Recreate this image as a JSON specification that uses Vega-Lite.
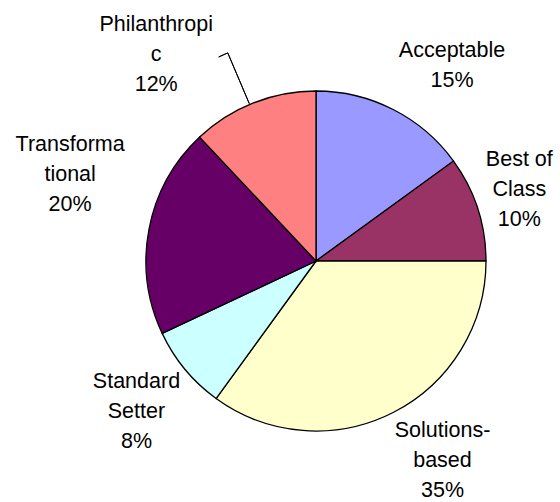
{
  "$schema": "https://vega.github.io/schema/vega-lite/v6.json",
  "autosize": "none",
  "width": 488,
  "height": 482,
  "padding": {"left": 72, "top": 20, "right": 0, "bottom": 0},
  "background": "white",
  "config": {"view": {"stroke": null}},
  "data": {
    "values": [
      {"cat": "Acceptable", "value": 15, "order": 1, "label": "Acceptable\n15%"},
      {"cat": "Best of Class", "value": 10, "order": 2, "label": "Best of\nClass\n10%"},
      {"cat": "Solutions-based", "value": 35, "order": 3, "label": "Solutions-\nbased\n35%"},
      {"cat": "Standard Setter", "value": 8, "order": 4, "label": "Standard\nSetter\n8%"},
      {"cat": "Transformational", "value": 20, "order": 5, "label": "Transforma\ntional\n20%"},
      {"cat": "Philanthropic", "value": 12, "order": 6, "label": "Philanthropi\nc\n12%"}
    ]
  },
  "layer": [
    {
      "mark": {"type": "arc", "radius": 170, "stroke": "black", "strokeWidth": 1.3},
      "encoding": {
        "theta": {"field": "value", "type": "quantitative", "stack": true, "scale": {"domain": [0, 100]}},
        "order": {"field": "order", "type": "quantitative"},
        "color": {
          "field": "cat", "type": "nominal", "legend": null,
          "scale": {
            "domain": ["Acceptable", "Best of Class", "Solutions-based", "Standard Setter", "Transformational", "Philanthropic"],
            "range": ["#9999FF", "#993366", "#FFFFCC", "#CCFFFF", "#660066", "#FF8080"]
          }
        }
      }
    },
    {
      "transform": [
        {"window": [{"op": "sum", "field": "value", "as": "cum"}], "sort": [{"field": "order"}], "frame": [null, 0]},
        {"filter": "datum.cat === 'Philanthropic'"}
      ],
      "mark": {"type": "arc", "radius": 226, "radius2": 171, "thetaOffset": -0.401, "theta2Offset": -0.401, "fill": null, "filled": false, "stroke": "black", "strokeWidth": 1},
      "encoding": {
        "theta": {"field": "cum", "type": "quantitative", "scale": {"domain": [0, 100]}},
        "theta2": {"field": "cum"}
      }
    },
    {
      "transform": [
        {"window": [{"op": "sum", "field": "value", "as": "cum"}], "sort": [{"field": "order"}], "frame": [null, 0]},
        {"filter": "datum.cat === 'Philanthropic'"}
      ],
      "mark": {"type": "arc", "radius": 226, "radius2": 226, "thetaOffset": -0.445, "theta2Offset": -0.401, "fill": null, "filled": false, "stroke": "black", "strokeWidth": 1},
      "encoding": {
        "theta": {"field": "cum", "type": "quantitative", "scale": {"domain": [0, 100]}},
        "theta2": {"field": "cum"}
      }
    },
    {
      "transform": [
        {"window": [{"op": "sum", "field": "value", "as": "cum"}], "sort": [{"field": "order"}], "frame": [null, 0]},
        {"filter": "datum.cat === 'Acceptable'"}
      ],
      "mark": {"type": "text", "font": "Liberation Sans", "fontSize": 21.5, "lineBreak": "\n", "lineHeight": 30, "align": "center", "baseline": "middle", "color": "black", "radius": 238.6, "thetaOffset": -0.3358, "dy": -14},
      "encoding": {
        "theta": {"field": "cum", "type": "quantitative", "scale": {"domain": [0, 100]}},
        "text": {"field": "label"}
      }
    },
    {
      "transform": [
        {"window": [{"op": "sum", "field": "value", "as": "cum"}], "sort": [{"field": "order"}], "frame": [null, 0]},
        {"filter": "datum.cat === 'Best of Class'"}
      ],
      "mark": {"type": "text", "font": "Liberation Sans", "fontSize": 21.5, "lineBreak": "\n", "lineHeight": 30, "align": "center", "baseline": "middle", "color": "black", "radius": 216, "thetaOffset": -0.3444, "dy": -28},
      "encoding": {
        "theta": {"field": "cum", "type": "quantitative", "scale": {"domain": [0, 100]}},
        "text": {"field": "label"}
      }
    },
    {
      "transform": [
        {"window": [{"op": "sum", "field": "value", "as": "cum"}], "sort": [{"field": "order"}], "frame": [null, 0]},
        {"filter": "datum.cat === 'Solutions-based'"}
      ],
      "mark": {"type": "text", "font": "Liberation Sans", "fontSize": 21.5, "lineBreak": "\n", "lineHeight": 30, "align": "center", "baseline": "middle", "color": "black", "radius": 237.5, "thetaOffset": -1.190, "dy": -31},
      "encoding": {
        "theta": {"field": "cum", "type": "quantitative", "scale": {"domain": [0, 100]}},
        "text": {"field": "label"}
      }
    },
    {
      "transform": [
        {"window": [{"op": "sum", "field": "value", "as": "cum"}], "sort": [{"field": "order"}], "frame": [null, 0]},
        {"filter": "datum.cat === 'Standard Setter'"}
      ],
      "mark": {"type": "text", "font": "Liberation Sans", "fontSize": 21.5, "lineBreak": "\n", "lineHeight": 30, "align": "center", "baseline": "middle", "color": "black", "radius": 233, "thetaOffset": -0.2513, "dy": -28},
      "encoding": {
        "theta": {"field": "cum", "type": "quantitative", "scale": {"domain": [0, 100]}},
        "text": {"field": "label"}
      }
    },
    {
      "transform": [
        {"window": [{"op": "sum", "field": "value", "as": "cum"}], "sort": [{"field": "order"}], "frame": [null, 0]},
        {"filter": "datum.cat === 'Transformational'"}
      ],
      "mark": {"type": "text", "font": "Liberation Sans", "fontSize": 21.5, "lineBreak": "\n", "lineHeight": 30, "align": "center", "baseline": "middle", "color": "black", "radius": 261, "thetaOffset": -0.4747, "dy": -28},
      "encoding": {
        "theta": {"field": "cum", "type": "quantitative", "scale": {"domain": [0, 100]}},
        "text": {"field": "label"}
      }
    },
    {
      "transform": [
        {"window": [{"op": "sum", "field": "value", "as": "cum"}], "sort": [{"field": "order"}], "frame": [null, 0]},
        {"filter": "datum.cat === 'Philanthropic'"}
      ],
      "mark": {"type": "text", "font": "Liberation Sans", "fontSize": 21.5, "lineBreak": "\n", "lineHeight": 30, "align": "center", "baseline": "middle", "color": "black", "radius": 262, "thetaOffset": -0.656, "dy": -28},
      "encoding": {
        "theta": {"field": "cum", "type": "quantitative", "scale": {"domain": [0, 100]}},
        "text": {"field": "label"}
      }
    }
  ]
}
